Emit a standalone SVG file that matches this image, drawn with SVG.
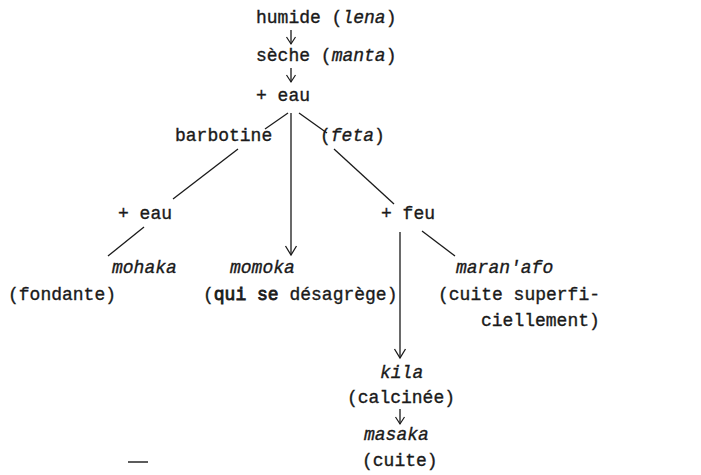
<svg xmlns="http://www.w3.org/2000/svg" width="701" height="475" viewBox="0 0 701 475">
<defs>
<marker id="ah" viewBox="-10 -8 12 16" markerWidth="12" markerHeight="16" refX="0" refY="0" orient="auto" markerUnits="userSpaceOnUse">
<path d="M-9,-5.5 L0,0 L-9,5.5" fill="none" stroke="#1a1a1a" stroke-width="1.3"/>
</marker>
<marker id="ahs" viewBox="-8 -6 10 12" markerWidth="10" markerHeight="12" refX="0" refY="0" orient="auto" markerUnits="userSpaceOnUse">
<path d="M-7,-4.5 L0,0 L-7,4.5" fill="none" stroke="#1a1a1a" stroke-width="1.2"/>
</marker>
</defs>
<style>
text{font-family:"Liberation Mono","Courier New",monospace;font-size:18px;fill:#1a1a1a;stroke:#1a1a1a;stroke-width:0.35}
.i{font-style:italic}
.d{stroke-width:0.8}
.c{stroke:#1a1a1a;stroke-width:1.3;fill:none}
</style>
<rect width="701" height="475" fill="#fff"/>
<g id="connectors">
<line class="c" x1="291" y1="30" x2="291" y2="44" marker-end="url(#ahs)"/>
<line class="c" x1="291" y1="68" x2="291" y2="82" marker-end="url(#ahs)"/>
<line class="c" x1="288" y1="113" x2="265" y2="129"/>
<line class="c" x1="291" y1="113" x2="291" y2="255" marker-end="url(#ah)"/>
<line class="c" x1="299" y1="113" x2="327" y2="133"/>
<line class="c" x1="238" y1="149" x2="173" y2="199"/>
<line class="c" x1="334" y1="149" x2="394" y2="204"/>
<line class="c" x1="144" y1="227" x2="108" y2="256"/>
<line class="c" x1="400" y1="232" x2="400" y2="358" marker-end="url(#ah)"/>
<line class="c" x1="422" y1="231" x2="455" y2="256"/>
<line class="c" x1="400" y1="409" x2="400" y2="424" marker-end="url(#ahs)"/>
<line x1="128" y1="462" x2="148" y2="462" stroke="#333" stroke-width="1.6"/>
</g>
<g id="humide"><text x="256" y="23">humide (<tspan class="i">lena</tspan>)</text></g>
<g id="seche"><text x="256" y="61">sèche (<tspan class="i">manta</tspan>)</text></g>
<g id="eau1"><text x="256" y="101">+ eau</text></g>
<g id="barbotine"><text x="175" y="141">barbotine</text></g>
<g id="feta"><text x="320" y="141">(<tspan class="i">feta</tspan>)</text></g>
<g id="eau2"><text x="118" y="219">+ eau</text></g>
<g id="feu"><text x="381" y="219">+ feu</text></g>
<g id="mohaka"><text class="i" x="112" y="273">mohaka</text><text x="8" y="300">(fondante)</text></g>
<g id="momoka"><text class="i" x="230" y="273">momoka</text><text x="203" y="300">(<tspan class="d">qui se</tspan> désagrège)</text></g>
<g id="maranafo"><text class="i" x="456" y="273">maran'afo</text><text x="438" y="300">(cuite superfi-</text><text x="481" y="326">ciellement)</text></g>
<g id="kila"><text class="i" x="380" y="378">kila</text><text x="347" y="403">(calcinée)</text></g>
<g id="masaka"><text class="i" x="364" y="440">masaka</text><text x="362" y="466">(cuite)</text></g>
</svg>
